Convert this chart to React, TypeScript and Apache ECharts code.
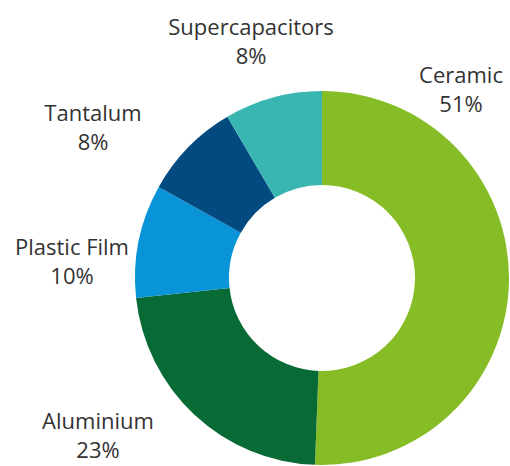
import React, { useEffect, useRef } from "react";
import * as echarts from "echarts";

const categories = ["Ceramic", "Aluminium", "Plastic Film", "Tantalum", "Supercapacitors"];
const shares = [50.6, 22.7, 9.8, 8.45, 8.45];
const colors = ["#86bc25", "#086a35", "#0a94d8", "#024a80", "#39b6b2"];

// label block centres (layout only)
const labelSpots: [number, number][] = [
  [461, 88],
  [98, 434],
  [72, 260],
  [93, 126],
  [251, 40],
];

export default function App() {
  const ref = useRef<HTMLDivElement>(null);
  useEffect(() => {
    if (!ref.current) return;
    const chart = echarts.init(ref.current, undefined, { renderer: "svg" });
    chart.setOption({
      animation: false,
      series: [
        {
          type: "pie",
          center: [322, 278],
          radius: [93, 187],
          startAngle: 90,
          clockwise: true,
          avoidLabelOverlap: false,
          itemStyle: { borderWidth: 0 },
          label: {
            show: true,
            position: "outside",
            formatter: (p: any) => `${p.name}\n${Math.round(p.value)}%`,
            fontFamily: "Open Sans",
            fontSize: 22,
            lineHeight: 29,
            color: "#333333",
            align: "center",
          },
          labelLine: { show: false },
          labelLayout: (params: any) => {
            const s = labelSpots[params.dataIndex];
            return { x: s[0], y: s[1], align: "center", verticalAlign: "middle" };
          },
          emphasis: { disabled: true },
          data: categories.map((name, i) => ({
            name,
            value: shares[i],
            itemStyle: { color: colors[i] },
          })),
        },
      ],
    });
    return () => chart.dispose();
  }, []);
  return (
    <div
      ref={ref}
      style={{ position: "fixed", left: 0, top: 0, width: 510, height: 466, background: "#fff" }}
    />
  );
}
